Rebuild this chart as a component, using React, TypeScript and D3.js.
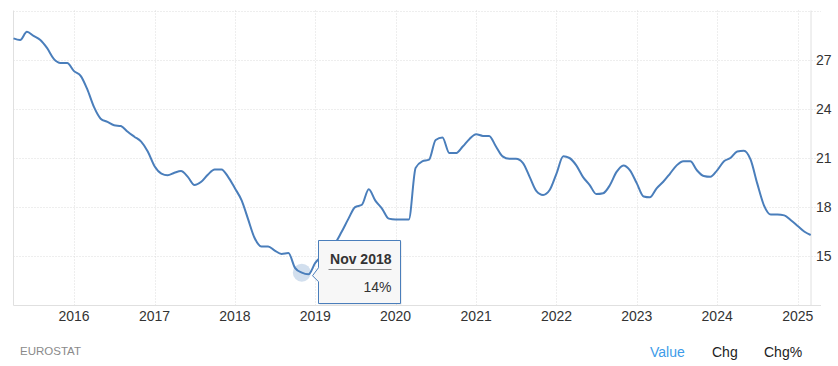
import { useEffect, useRef } from "react";
import * as d3 from "d3";

// monthly rate, Apr 2015 .. Mar 2025
const FIRST_MONTH = new Date(2015, 3, 1);
const rates = [
  28.3, 28.2, 28.7, 28.45, 28.2, 27.7, 27.05, 26.8, 26.8,
  26.3, 26.0, 25.2, 24.1, 23.4, 23.2, 23.0, 22.95, 22.6, 22.3, 22.0, 21.4,
  20.5, 20.05, 19.95, 20.1, 20.2, 19.85, 19.35, 19.55, 20.0, 20.3, 20.3, 19.85,
  19.15, 18.4, 17.3, 16.1, 15.6, 15.6, 15.35, 15.15, 15.2, 14.3, 14.0, 13.9,
  14.6, 15.05, 15.5, 15.8, 16.5, 17.3, 18.0, 18.15, 19.1, 18.4, 17.9, 17.3,
  17.25, 17.25, 17.25, 20.4, 20.8, 20.9, 22.1, 22.25, 21.3, 21.3, 21.7, 22.15,
  22.45, 22.35, 22.35, 21.7, 21.1, 20.95, 20.95, 20.7, 19.85, 19.0, 18.75, 19.05,
  20.05, 21.1, 21.0, 20.55, 19.85, 19.35, 18.8, 18.85, 19.35, 20.15, 20.55, 20.25,
  19.45, 18.65, 18.6, 19.15, 19.55, 20.05, 20.55, 20.8, 20.8, 20.25, 19.9, 19.85,
  20.25, 20.8, 21.0, 21.4, 21.45, 20.9, 19.45, 18.1, 17.55, 17.55, 17.5, 17.2,
  16.85, 16.5, 16.3,
];
const yTicks = [15, 18, 21, 24, 27];
const xYears = [2016, 2017, 2018, 2019, 2020, 2021, 2022, 2023, 2024, 2025];
const tipIndex = 43; // Nov 2018
const tipTitle = "Nov 2018";
const tipValue = "14%";
const source = "EUROSTAT";
const tabs = ["Value", "Chg", "Chg%"];

const W = 838;
const H = 366;
const FONT = "Arial, 'Liberation Sans', sans-serif";
const LINE = "#4a7ebb";

export default function App() {
  const ref = useRef<SVGSVGElement>(null);

  useEffect(() => {
    const el = ref.current;
    if (!el) return;
    const svg = d3.select(el);
    svg.selectAll("*").remove();

    const data = rates.map((v, i) => ({
      date: d3.timeMonth.offset(FIRST_MONTH, i),
      value: v,
    }));

    const left = 13.5;
    const right = 810.7;
    const top = 10.5;
    const bottom = 305.5;

    const x = d3
      .scaleTime()
      .domain(d3.extent(data, (d) => d.date) as [Date, Date])
      .range([left, right]);
    const y = d3.scaleLinear().domain([12, 30]).range([bottom, top]);

    const grid = svg.append("g");
    // horizontal grid
    grid
      .selectAll("line.h")
      .data([...yTicks, 30])
      .join("line")
      .attr("x1", left)
      .attr("x2", 821)
      .attr("y1", (d) => Math.round(y(d)) + 0.5)
      .attr("y2", (d) => Math.round(y(d)) + 0.5)
      .attr("stroke", "#dcdcdc")
      .attr("stroke-dasharray", "1,2");
    // vertical grid
    grid
      .selectAll("line.v")
      .data(xYears)
      .join("line")
      .attr("x1", (d) => Math.round(x(new Date(d, 0, 1))) + 0.5)
      .attr("x2", (d) => Math.round(x(new Date(d, 0, 1))) + 0.5)
      .attr("y1", top)
      .attr("y2", bottom)
      .attr("stroke", "#dcdcdc")
      .attr("stroke-dasharray", "1,2");

    // frame lines
    grid
      .append("line")
      .attr("x1", left)
      .attr("x2", left)
      .attr("y1", top)
      .attr("y2", bottom)
      .attr("stroke", "#e0e0e0");
    grid
      .append("line")
      .attr("x1", right + 0.3)
      .attr("x2", right + 0.3)
      .attr("y1", top)
      .attr("y2", bottom)
      .attr("stroke", "#e0e0e0");
    grid
      .append("line")
      .attr("x1", left)
      .attr("x2", 821)
      .attr("y1", bottom)
      .attr("y2", bottom)
      .attr("stroke", "#e0e0e0");

    // y labels
    svg
      .append("g")
      .selectAll("text")
      .data(yTicks)
      .join("text")
      .attr("x", 816)
      .attr("y", (d) => y(d))
      .attr("dy", "0.35em")
      .attr("font-family", FONT)
      .attr("font-size", 14)
      .attr("fill", "#333")
      .text((d) => d);

    // x labels
    svg
      .append("g")
      .selectAll("text")
      .data(xYears)
      .join("text")
      .attr("x", (d) => x(new Date(d, 0, 1)))
      .attr("y", 316)
      .attr("dy", "0.35em")
      .attr("text-anchor", "middle")
      .attr("font-family", FONT)
      .attr("font-size", 14)
      .attr("fill", "#333")
      .text((d) => d);

    const line = d3
      .line<{ date: Date; value: number }>()
      .x((d) => x(d.date))
      .y((d) => y(d.value))
      .curve(d3.curveMonotoneX);

    svg
      .append("path")
      .datum(data)
      .attr("d", line)
      .attr("fill", "none")
      .attr("stroke", LINE)
      .attr("stroke-width", 2)
      .attr("stroke-linejoin", "round");

    // hover marker
    const tp = data[tipIndex];
    const px = x(tp.date);
    const py = y(tp.value);
    svg
      .append("circle")
      .attr("cx", px)
      .attr("cy", py)
      .attr("r", 9)
      .attr("fill", LINE)
      .attr("fill-opacity", 0.25);

    // tooltip
    const bx = 318.5;
    const by = 240.5;
    const bw = 82;
    const bh = 63;
    const ay = py + 3;
    const tip = svg.append("g");
    const shape = `M${bx},${by} H${bx + bw} V${by + bh} H${bx} V${ay + 6} L${bx - 6},${ay} L${bx},${ay - 8} Z`;
    tip
      .append("path")
      .attr("d", shape)
      .attr("transform", "translate(1,1)")
      .attr("fill", "rgba(0,0,0,0.12)");
    tip
      .append("path")
      .attr("d", shape)
      .attr("fill", "#f7f7f7")
      .attr("stroke", LINE)
      .attr("stroke-width", 1);
    tip
      .append("text")
      .attr("x", bx + bw - 9)
      .attr("y", 259)
      .attr("dy", "0.35em")
      .attr("text-anchor", "end")
      .attr("font-family", FONT)
      .attr("font-size", 14)
      .attr("font-weight", 700)
      .attr("fill", "#333")
      .text(tipTitle);
    tip
      .append("line")
      .attr("x1", 328.5)
      .attr("x2", bx + bw - 9)
      .attr("y1", 269.5)
      .attr("y2", 269.5)
      .attr("stroke", "#888");
    tip
      .append("text")
      .attr("x", bx + bw - 9)
      .attr("y", 287)
      .attr("dy", "0.35em")
      .attr("text-anchor", "end")
      .attr("font-family", FONT)
      .attr("font-size", 14)
      .attr("fill", "#333")
      .text(tipValue);

    // footer
    svg
      .append("text")
      .attr("x", 20)
      .attr("y", 351)
      .attr("dy", "0.35em")
      .attr("font-family", FONT)
      .attr("font-size", 11.5)
      .attr("fill", "#8a8a8a")
      .text(source);

    const tabX = [650, 712, 764];
    svg
      .append("g")
      .selectAll("text")
      .data(tabs)
      .join("text")
      .attr("x", (_, i) => tabX[i])
      .attr("y", 352)
      .attr("dy", "0.35em")
      .attr("font-family", FONT)
      .attr("font-size", 14)
      .attr("fill", (_, i) => (i === 0 ? "#3d9be9" : "#222"))
      .text((d) => d);
  }, []);

  return (
    <div style={{ position: "fixed", left: 0, top: 0 }}>
      <svg ref={ref} width={W} height={H} style={{ display: "block", background: "#fff" }} />
    </div>
  );
}
